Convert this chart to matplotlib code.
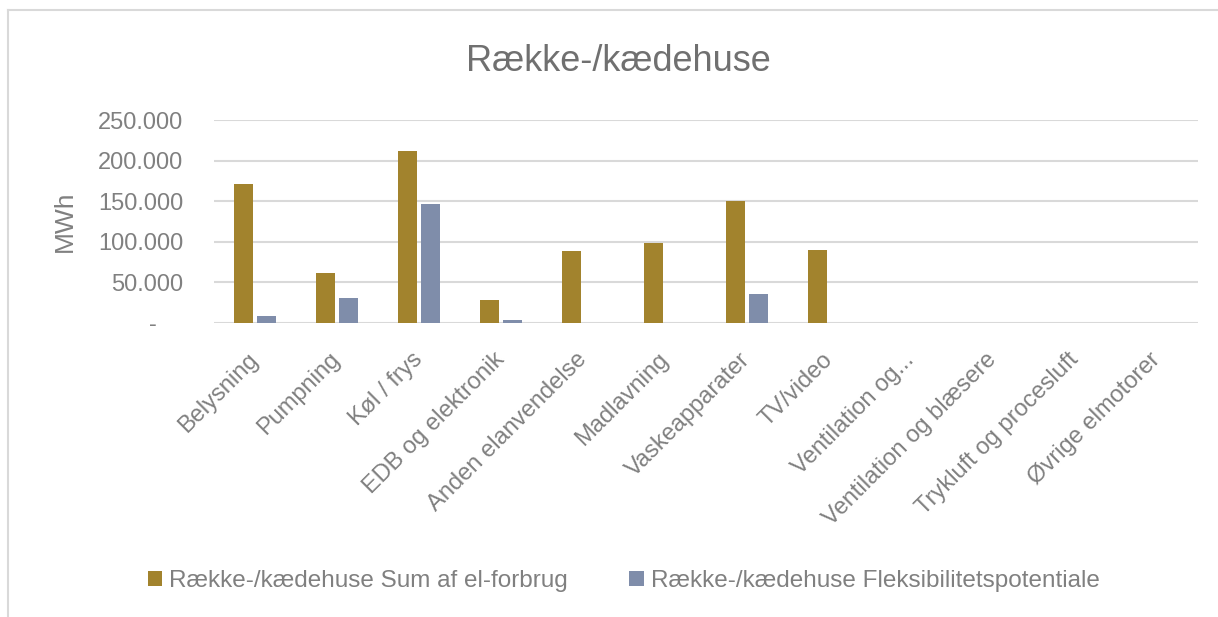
import numpy as np
import matplotlib
matplotlib.use('Agg')
import matplotlib.pyplot as plt
from matplotlib.ticker import FuncFormatter
from matplotlib.lines import Line2D

# Categories and values (MWh)
categories = ['Belysning', 'Pumpning', 'Køl / frys', 'EDB og elektronik',
              'Anden elanvendelse', 'Madlavning', 'Vaskeapparater', 'TV/video',
              'Ventilation og...', 'Ventilation og blæsere',
              'Trykluft og procesluft', 'Øvrige elmotorer']
forbrug = [171000, 61000, 212000, 28500, 88500, 99000, 150000, 90000, 0, 0, 0, 0]
fleks = [8500, 30500, 146500, 4000, 0, 0, 36000, 0, 0, 0, 0, 0]
series_names = ['Række-/kædehuse Sum af el-forbrug', 'Række-/kædehuse Fleksibilitetspotentiale']

gold = '#A2832D'
blue = '#7F8DAA'
grey = '#808080'

plt.rcParams['font.family'] = ['Liberation Sans', 'DejaVu Sans']

fig = plt.figure(figsize=(12.18, 6.17), dpi=100)
ax = fig.add_axes([0.1757, 0.4765, 0.8079, 0.329])

x = np.arange(len(categories))
w = 0.225
ax.bar(x - 0.14, forbrug, w, color=gold, label=series_names[0], zorder=3)
ax.bar(x + 0.14, fleks, w, color=blue, label=series_names[1], zorder=3)

ax.set_xlim(-0.5, len(categories) - 0.5)
ax.set_ylim(0, 250000)
ax.set_yticks(np.arange(0, 250001, 50000))


def fmt(v, pos):
    if v == 0:
        return '-    '
    return f'{int(v):,}'.replace(',', '.')


ax.yaxis.set_major_formatter(FuncFormatter(fmt))
ax.grid(axis='y', color='#D9D9D9', linewidth=1.5, zorder=0)
for s in ax.spines.values():
    s.set_visible(False)
ax.tick_params(axis='y', length=0, pad=22, labelsize=17, labelcolor=grey)
ax.tick_params(axis='x', length=0, pad=24, labelsize=17, labelcolor=grey)
ax.set_xticks(x)
ax.set_xticklabels(categories, rotation=45, ha='right', va='center', rotation_mode='anchor')

fig.text(0.053, 0.641, 'MWh', rotation=90, ha='center', va='center', fontsize=19, color=grey)
fig.text(0.508, 0.901, 'Række-/kædehuse', ha='center', va='center', fontsize=26, color='#707070')

fig.legend(loc='center', bbox_to_anchor=(0.512, 0.058), ncol=2, frameon=False,
           fontsize=17.5, labelcolor=grey, handlelength=0.6, handleheight=0.6,
           handletextpad=0.3, columnspacing=2.5)

# light frame along top and left edge like the screenshot
fig.add_artist(Line2D([8 / 1218, 8 / 1218], [0, 1 - 10 / 617], transform=fig.transFigure, color='#D9D9D9', lw=1.5))
fig.add_artist(Line2D([8 / 1218, 1], [1 - 10 / 617, 1 - 10 / 617], transform=fig.transFigure, color='#D9D9D9', lw=1.5))

fig.savefig('out.png', dpi=100)
